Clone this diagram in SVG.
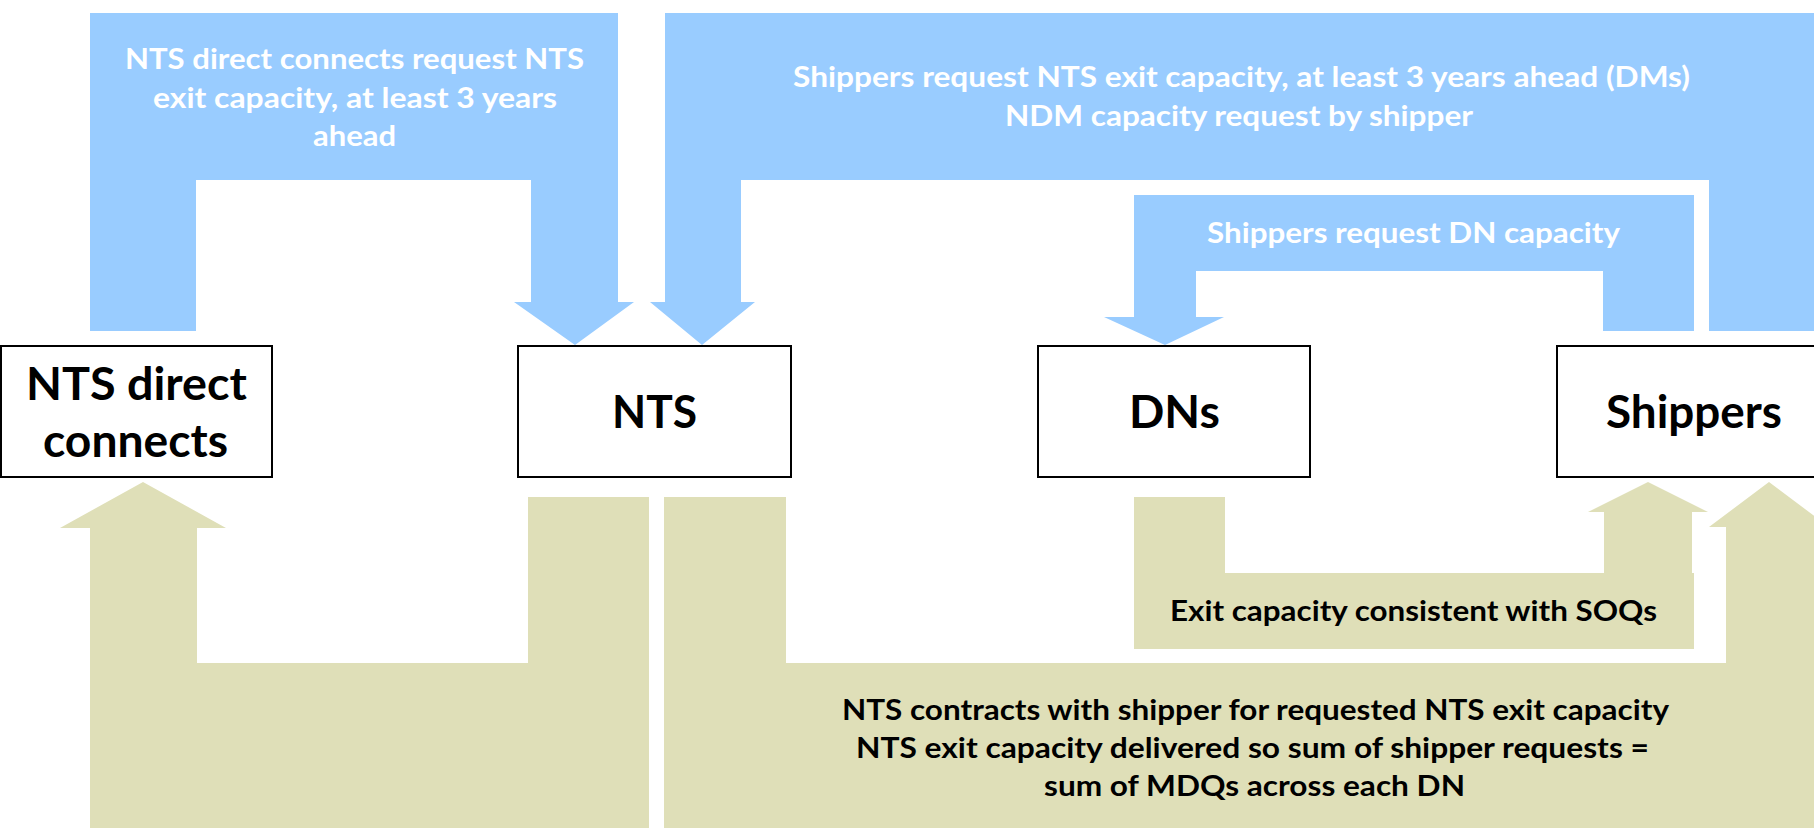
<svg xmlns="http://www.w3.org/2000/svg" width="1814" height="828" viewBox="0 0 1814 828">
<style>
.blue{fill:#99CCFF;stroke:none}
.olive{fill:#DFDFB8;stroke:none}
.box{fill:#FFFFFF;stroke:#000000;stroke-width:2}
.lbl{font-family:Lato,"Liberation Sans",sans-serif;font-weight:700;font-size:46px;fill:#000000}
.wt{font-family:Lato,"Liberation Sans",sans-serif;font-weight:700;font-size:29px;fill:#FFFFFF}
.bt{font-family:Lato,"Liberation Sans",sans-serif;font-weight:700;font-size:29px;fill:#000000}
</style>
<rect width="1814" height="828" fill="#FFFFFF"/>
<g id="connectors">
  <g id="c-direct-request">
    <path class="blue" d="M90,13 H618 V302 H634 L575,345 L514,302 H531 V180 H196 V331 H90 Z"/>
    <text class="wt" x="125" y="69" textLength="459" lengthAdjust="spacingAndGlyphs">NTS direct connects request NTS</text>
    <text class="wt" x="153" y="108" textLength="404" lengthAdjust="spacingAndGlyphs">exit capacity, at least 3 years</text>
    <text class="wt" x="313" y="146" textLength="83" lengthAdjust="spacingAndGlyphs">ahead</text>
  </g>
  <g id="c-shipper-nts-request">
    <path class="blue" d="M665,13 H1830 V331 H1709 V180 H741 V302 H755 L702,345 L650,302 H665 Z"/>
    <text class="wt" x="793" y="87" textLength="897" lengthAdjust="spacingAndGlyphs">Shippers request NTS exit capacity, at least 3 years ahead (DMs)</text>
    <text class="wt" x="1005" y="126" textLength="468" lengthAdjust="spacingAndGlyphs">NDM capacity request by shipper</text>
  </g>
  <g id="c-shipper-dn-request">
    <path class="blue" d="M1134,195 H1694 V331 H1603 V271 H1196 V317 H1224 L1165,345 L1104,317 H1134 Z"/>
    <text class="wt" x="1207" y="243" textLength="413" lengthAdjust="spacingAndGlyphs">Shippers request DN capacity</text>
  </g>
  <g id="c-nts-direct">
    <path class="olive" d="M528,497 H649 V828 H90 V528 H60 L143,482 L226,528 H197 V663 H528 Z"/>
  </g>
  <g id="c-nts-shippers">
    <path class="olive" d="M664,497 H786 V663 H1726 V527 H1709 L1769,482 L1829,527 H1830 V828 H664 Z"/>
    <text class="bt" x="842" y="720" textLength="827" lengthAdjust="spacingAndGlyphs">NTS contracts with shipper for requested NTS exit capacity</text>
    <text class="bt" x="856" y="758" textLength="793" lengthAdjust="spacingAndGlyphs">NTS exit capacity delivered so sum of shipper requests =</text>
    <text class="bt" x="1044" y="796" textLength="421" lengthAdjust="spacingAndGlyphs">sum of MDQs across each DN</text>
  </g>
  <g id="c-dn-shippers">
    <path class="olive" d="M1134,497 H1225 V573 H1604 V512 H1588 L1648,482 L1708,512 H1692 V573 H1694 V649 H1134 Z"/>
    <text class="bt" x="1170" y="621" textLength="487" lengthAdjust="spacingAndGlyphs">Exit capacity consistent with SOQs</text>
  </g>
</g>
<g id="node-nts-direct">
  <rect class="box" x="1" y="346" width="271" height="131"/>
  <text class="lbl" x="26" y="400" textLength="221" lengthAdjust="spacingAndGlyphs">NTS direct</text>
  <text class="lbl" x="43" y="457" textLength="185" lengthAdjust="spacingAndGlyphs">connects</text>
</g>
<g id="node-nts">
  <rect class="box" x="518" y="346" width="273" height="131"/>
  <text class="lbl" x="612" y="428" textLength="85" lengthAdjust="spacingAndGlyphs">NTS</text>
</g>
<g id="node-dns">
  <rect class="box" x="1038" y="346" width="272" height="131"/>
  <text class="lbl" x="1129" y="428" textLength="91" lengthAdjust="spacingAndGlyphs">DNs</text>
</g>
<g id="node-shippers">
  <rect class="box" x="1557" y="346" width="273" height="131"/>
  <text class="lbl" x="1606" y="428" textLength="176" lengthAdjust="spacingAndGlyphs">Shippers</text>
</g>
</svg>
